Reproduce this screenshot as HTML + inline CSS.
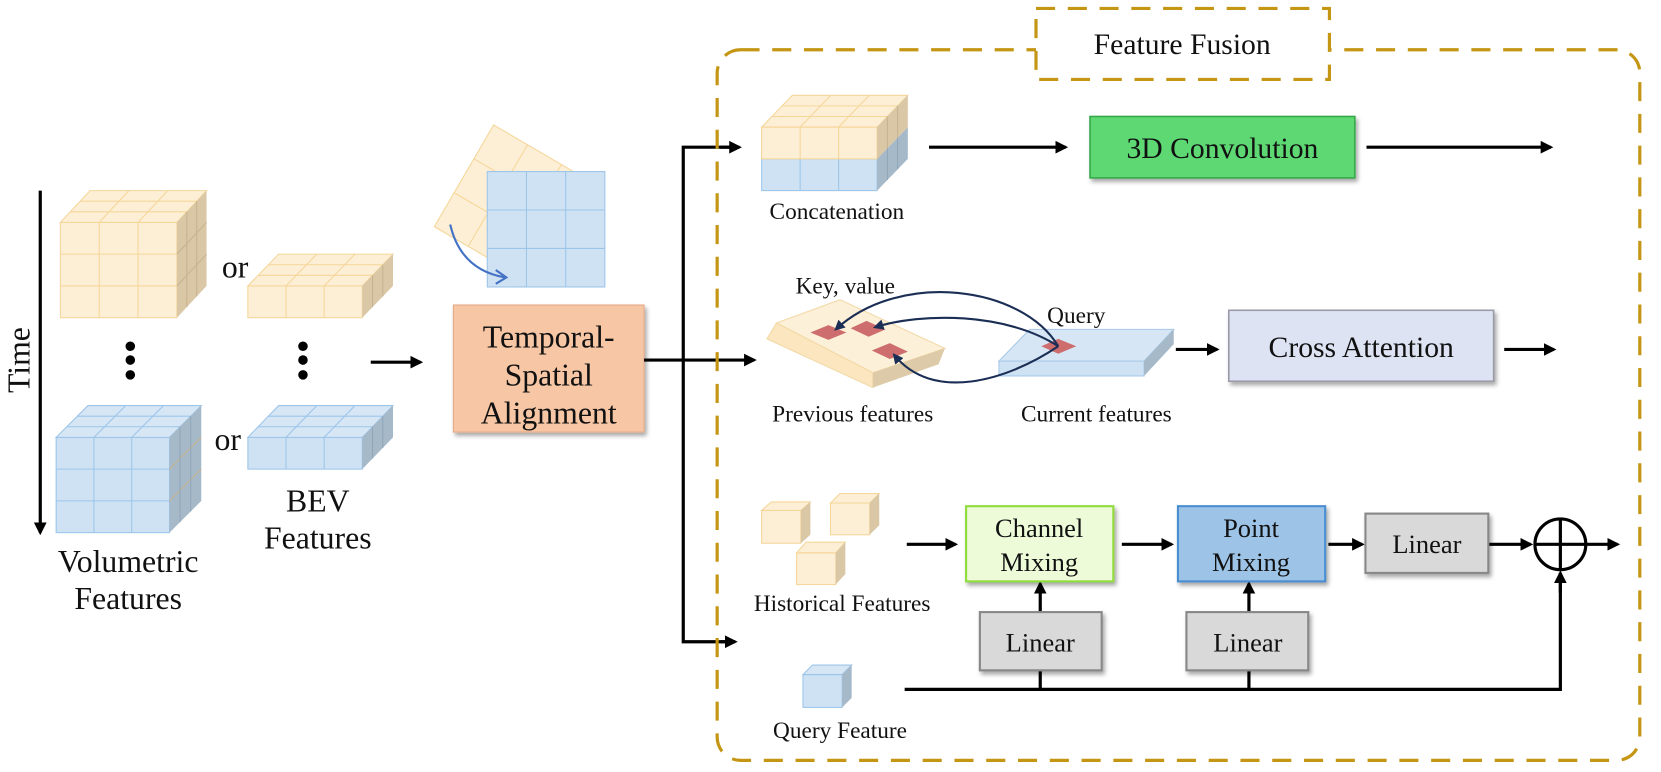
<!DOCTYPE html>
<html><head><meta charset="utf-8"><style>
html,body{margin:0;padding:0;background:#fff;}
svg{display:block;}
text{font-family:"Liberation Serif",serif;fill:#111;}
</style></head><body>
<svg id="s" width="1661" height="772" viewBox="0 0 1568 729" preserveAspectRatio="none" xmlns="http://www.w3.org/2000/svg">
<defs>
<marker id="ah" viewBox="0 0 10 10" refX="8" refY="5" markerWidth="4" markerHeight="4" orient="auto"><path d="M0,0 L10,5 L0,10 z" fill="#000"/></marker>
<marker id="an" viewBox="0 0 10 10" refX="8" refY="5" markerWidth="5" markerHeight="5" orient="auto"><path d="M0,0 L10,5 L0,10 z" fill="#1b2e55"/></marker>
<filter id="sh" x="-10%" y="-10%" width="130%" height="130%"><feDropShadow dx="2" dy="3" stdDeviation="2" flood-color="#000" flood-opacity="0.35"/></filter>
</defs>
<g id="cubes"></g>

<!-- Time arrow -->
<line x1="38" y1="180" x2="38" y2="503" stroke="#000" stroke-width="3" marker-end="url(#ah)"/>
<text x="18" y="340" font-size="30" text-anchor="middle" transform="rotate(-90 18 340)" dominant-baseline="central">Time</text>
<text x="222" y="262" font-size="30" text-anchor="middle">or</text>
<text x="215" y="425" font-size="30" text-anchor="middle">or</text>
<g fill="#000"><circle cx="123" cy="327" r="4.5"/><circle cx="123" cy="340" r="4.5"/><circle cx="123" cy="354" r="4.5"/>
<circle cx="286" cy="327" r="4.5"/><circle cx="286" cy="340" r="4.5"/><circle cx="286" cy="354" r="4.5"/></g>
<text x="300" y="483" font-size="30" text-anchor="middle">BEV</text>
<text x="300" y="518" font-size="30" text-anchor="middle">Features</text>
<text x="121" y="540" font-size="30" text-anchor="middle">Volumetric</text>
<text x="121" y="575" font-size="30" text-anchor="middle">Features</text>
<line x1="350" y1="342" x2="397" y2="342" stroke="#000" stroke-width="3" marker-end="url(#ah)"/>

<!-- rotated grids -->
<g id="rot"></g>
<path d="M425,212 Q435,255 477,262" fill="none" stroke="#4472c4" stroke-width="2"/>
<path d="M468,255 L478,262 L468,268" fill="none" stroke="#4472c4" stroke-width="2"/>

<!-- TSA box -->
<rect x="428" y="288" width="180" height="120" fill="#f7c6a5" stroke="#e3a986" stroke-width="1" filter="url(#sh)"/>
<text x="518" y="328" font-size="30" text-anchor="middle">Temporal-</text>
<text x="518" y="364" font-size="30" text-anchor="middle">Spatial</text>
<text x="518" y="400" font-size="30" text-anchor="middle">Alignment</text>

<!-- splitter -->
<g stroke="#000" stroke-width="3" fill="none">
<line x1="608" y1="340" x2="712" y2="340" marker-end="url(#ah)"/>
<polyline points="697,139 645,139 645,606 693,606"/>
<line x1="680" y1="139" x2="698" y2="139" marker-end="url(#ah)"/>
<line x1="680" y1="606" x2="694" y2="606" marker-end="url(#ah)"/>
</g>

<!-- dashed frame -->
<rect x="677" y="47" width="871" height="671" rx="22" fill="none" stroke="#c49614" stroke-width="3" stroke-dasharray="18 12"/>
<rect x="978" y="8" width="277" height="67" fill="#fff" stroke="#c49614" stroke-width="3" stroke-dasharray="18 12"/>
<text x="1116" y="51" font-size="28" text-anchor="middle">Feature Fusion</text>

<!-- row 1 -->
<text x="790" y="207" font-size="22" text-anchor="middle">Concatenation</text>
<line x1="877" y1="139" x2="1006" y2="139" stroke="#000" stroke-width="3" marker-end="url(#ah)"/>
<rect x="1029" y="110" width="250" height="58" fill="#5dd873" stroke="#36a84a" stroke-width="1.5" filter="url(#sh)"/>
<text x="1154" y="149" font-size="28" text-anchor="middle">3D Convolution</text>
<line x1="1290" y1="139" x2="1464" y2="139" stroke="#000" stroke-width="3" marker-end="url(#ah)"/>

<!-- row 2 -->
<polygon points="733,305 793,283 892,329 824,352" fill="#fdf0d8" stroke="#f2d9a6"/>
<polygon points="733,305 824,352 824,366 724,320" fill="#fbe6c0" stroke="#f2d9a6"/>
<polygon points="824,352 892,329 886,344 824,366" fill="#dccaa8"/>
<g fill="#cd6d6d">
<polygon points="765,314 782,307 799,314 782,321"/>
<polygon points="803,310 818,303 836,311 820,318"/>
<polygon points="823,331 840,324 857,332 840,339"/>
</g>
<polygon points="972,311 1108,311 1080,341 943,341" fill="#d6e6f5" stroke="#a8c8e8"/>
<polygon points="943,341 1080,341 1080,355 943,355" fill="#cfe2f3" stroke="#a8c8e8"/>
<polygon points="1080,341 1108,311 1108,325 1080,355" fill="#a6b9c9"/>
<polygon points="983,327 999,320 1016,327 999,334" fill="#cd6d6d"/>
<g fill="none" stroke="#1b2e55" stroke-width="2">
<path d="M999,327 C965,270 850,255 789,311" marker-end="url(#an)"/>
<path d="M999,327 C950,295 870,295 826,309" marker-end="url(#an)"/>
<path d="M999,327 C950,360 880,380 844,335" marker-end="url(#an)"/>
</g>
<text x="798" y="277" font-size="22" text-anchor="middle">Key, value</text>
<text x="1016" y="305" font-size="22" text-anchor="middle">Query</text>
<text x="805" y="398" font-size="22" text-anchor="middle">Previous features</text>
<text x="1035" y="398" font-size="22" text-anchor="middle">Current features</text>
<line x1="1110" y1="330" x2="1149" y2="330" stroke="#000" stroke-width="3" marker-end="url(#ah)"/>
<rect x="1160" y="293" width="250" height="67" fill="#dde3f3" stroke="#9a9aa8" stroke-width="1.5" filter="url(#sh)"/>
<text x="1285" y="337" font-size="28" text-anchor="middle">Cross Attention</text>
<line x1="1420" y1="330" x2="1467" y2="330" stroke="#000" stroke-width="3" marker-end="url(#ah)"/>

<!-- row 3 -->
<text x="795" y="577" font-size="22" text-anchor="middle">Historical Features</text>
<text x="793" y="697" font-size="22" text-anchor="middle">Query Feature</text>
<g stroke="#000" stroke-width="3" fill="none">
<line x1="856" y1="514" x2="902" y2="514" marker-end="url(#ah)"/>
<line x1="1059" y1="514" x2="1106" y2="514" marker-end="url(#ah)"/>
<line x1="1254" y1="514" x2="1286" y2="514" marker-end="url(#ah)"/>
<line x1="1404" y1="514" x2="1445" y2="514" marker-end="url(#ah)"/>
<line x1="1497" y1="514" x2="1527" y2="514" marker-end="url(#ah)"/>
<polyline points="854,651 1473,651 1473,541"/>
<line x1="1473" y1="560" x2="1473" y2="541" marker-end="url(#ah)"/>
<line x1="982" y1="651" x2="982" y2="633"/>
<line x1="1179" y1="651" x2="1179" y2="633"/>
<line x1="982" y1="578" x2="982" y2="551" marker-end="url(#ah)"/>
<line x1="1179" y1="578" x2="1179" y2="551" marker-end="url(#ah)"/>
<circle cx="1473" cy="514" r="24"/>
<line x1="1449" y1="514" x2="1497" y2="514"/>
<line x1="1473" y1="490" x2="1473" y2="538"/>
</g>
<rect x="912" y="478" width="139" height="71" fill="#eefbd9" stroke="#8fdc3c" stroke-width="2" filter="url(#sh)"/>
<text x="981" y="507" font-size="25" text-anchor="middle">Channel</text>
<text x="981" y="539" font-size="25" text-anchor="middle">Mixing</text>
<rect x="1112" y="478" width="139" height="71" fill="#9dc3e6" stroke="#4a8ed0" stroke-width="2" filter="url(#sh)"/>
<text x="1181" y="507" font-size="25" text-anchor="middle">Point</text>
<text x="1181" y="539" font-size="25" text-anchor="middle">Mixing</text>
<rect x="1289" y="485" width="116" height="56" fill="#d9d9d9" stroke="#888" stroke-width="2" filter="url(#sh)"/>
<text x="1347" y="522" font-size="25" text-anchor="middle">Linear</text>
<rect x="925" y="578" width="115" height="55" fill="#d9d9d9" stroke="#888" stroke-width="2" filter="url(#sh)"/>
<text x="982" y="615" font-size="25" text-anchor="middle">Linear</text>
<rect x="1120" y="578" width="115" height="55" fill="#d9d9d9" stroke="#888" stroke-width="2" filter="url(#sh)"/>
<text x="1178" y="615" font-size="25" text-anchor="middle">Linear</text>
</svg>
<script>
var NS="http://www.w3.org/2000/svg";
function el(p,t,a){var e=document.createElementNS(NS,t);for(var k in a)e.setAttribute(k,a[k]);p.appendChild(e);return e;}
var Y={f:"#fdefd6",t:"#fdefd6",s:"#d9c7a6",l:"#f5d699"},B={f:"#cfe2f3",t:"#d6e6f5",s:"#a6b9c9",l:"#9cc5ea"};
function cube(g,x,y,w,h,dx,dy,nx,ny,nz,c,noTop){
 el(g,"rect",{x:x,y:y,width:w,height:h,fill:c.f,stroke:c.l,"stroke-width":1});
 if(!noTop)el(g,"polygon",{points:[x,y,x+dx,y-dy,x+w+dx,y-dy,x+w,y].join(","),fill:c.t,stroke:c.l,"stroke-width":1});
 el(g,"polygon",{points:[x+w,y,x+w+dx,y-dy,x+w+dx,y+h-dy,x+w,y+h].join(","),fill:c.s});
 var L={stroke:c.l,"stroke-width":1};
 for(var i=1;i<nx;i++){var xi=x+i*w/nx;el(g,"line",Object.assign({x1:xi,y1:y,x2:xi,y2:y+h},L));if(!noTop)el(g,"line",Object.assign({x1:xi,y1:y,x2:xi+dx,y2:y-dy},L));}
 for(var j=1;j<ny;j++){var yj=y+j*h/ny;el(g,"line",Object.assign({x1:x,y1:yj,x2:x+w,y2:yj},L));el(g,"line",Object.assign({x1:x+w,y1:yj,x2:x+w+dx,y2:yj-dy,stroke:"#c8b38f"},{"stroke-width":1}));}
 for(var k=1;k<nz;k++){var ox=k*dx/nz,oy=k*dy/nz;if(!noTop)el(g,"line",Object.assign({x1:x+ox,y1:y-oy,x2:x+w+ox,y2:y-oy},L));el(g,"line",{x1:x+w+ox,y1:y-oy,x2:x+w+ox,y2:y+h-oy,stroke:c===Y?"#c8b38f":"#8fa6b9","stroke-width":1});}
}
var g=document.getElementById("cubes");
cube(g,57,210,110,90,28,30,3,3,3,Y);
cube(g,53,413,107,90,30,30,3,3,3,B);
cube(g,234,270,108,30,29,30,3,1,3,Y);
cube(g,234,413,108,30,29,30,3,1,3,B);
cube(g,719,150,109,30,29,30,3,1,3,B,true);
cube(g,719,120,109,30,29,30,3,1,3,Y);
cube(g,719,482,37,31,9,8,1,1,1,Y);
cube(g,784,475,37,30,9,9,1,1,1,Y);
cube(g,752,522,37,30,9,10,1,1,1,Y);
cube(g,758,637,37,31,9,9,1,1,1,B);
var r=document.getElementById("rot");
// rotated yellow square
var T=[466,118],A=[-56,96],P=[96,56];
el(r,"polygon",{points:[T[0],T[1],T[0]+A[0],T[1]+A[1],T[0]+A[0]+P[0],T[1]+A[1]+P[1],T[0]+P[0],T[1]+P[1]].join(","),fill:"#fdefd6",stroke:"#f5d699"});
for(var i=1;i<3;i++){
 el(r,"line",{x1:T[0]+A[0]*i/3,y1:T[1]+A[1]*i/3,x2:T[0]+A[0]*i/3+P[0],y2:T[1]+A[1]*i/3+P[1],stroke:"#f5d699"});
 el(r,"line",{x1:T[0]+P[0]*i/3,y1:T[1]+P[1]*i/3,x2:T[0]+P[0]*i/3+A[0],y2:T[1]+P[1]*i/3+A[1],stroke:"#f5d699"});
}
el(r,"rect",{x:460,y:162,width:111,height:109,fill:"#cfe2f3",stroke:"#9cc5ea"});
for(var i=1;i<3;i++){el(r,"line",{x1:460+i*37,y1:162,x2:460+i*37,y2:271,stroke:"#9cc5ea"});el(r,"line",{x1:460,y1:162+i*36.3,x2:571,y2:162+i*36.3,stroke:"#9cc5ea"});}
</script>
</body></html>
